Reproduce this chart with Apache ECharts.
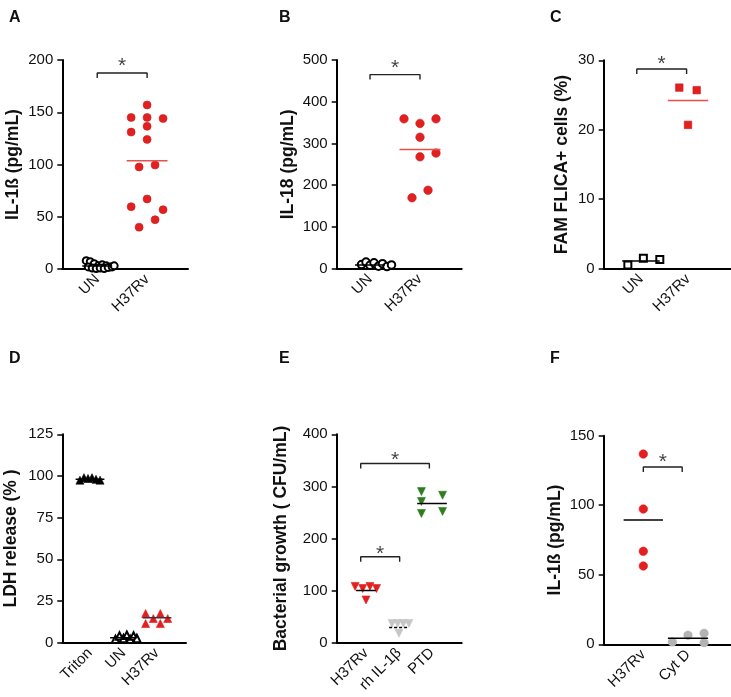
<!DOCTYPE html>
<html><head><meta charset="utf-8">
<script src="https://cdn.jsdelivr.net/npm/echarts@6/dist/echarts.min.js"></script>
<style>html,body{margin:0;padding:0;background:#fff}#c{width:731px;height:697px}</style>
</head><body><div id="c"></div>
<script>
// ---------- DATA ----------
const catsA = ['UN', 'H37Rv'];
const yTicksA = [0, 50, 100, 150, 200];
const unA = [8, 7, 5, 3, 4, 3, 2, 2, 1, 0.5, 1, 0.5, 1.5, 2, 3];
const unAx = [-0.22, -0.14, -0.06, 0.02, 0.1, 0.18, 0.26, -0.18, -0.1, -0.02, 0.06, 0.14, 0.22, 0.3, 0.34];
const h37A = [157, 145, 145, 144, 136.5, 131, 124, 97.6, 99.5, 67, 59.6, 56.8, 47.2, 40];
const h37Ax = [0, -0.32, 0, 0.32, 0, -0.32, 0, -0.16, 0.16, 0, -0.32, 0.32, 0.16, -0.16];
const meansA = [2.8, 103.7];
const bracketsA = [[1, 2, 187.6]];

const catsB = ['UN', 'H37Rv'];
const yTicksB = [0, 100, 200, 300, 400, 500];
const unB = [10, 16, 8, 14, 6, 12, 5, 9];
const unBx = [-0.17, -0.08, 0.0, 0.08, 0.17, 0.25, 0.34, 0.43];
const h37B = [359, 348, 359, 315, 268, 277, 188, 170];
const h37Bx = [-0.32, 0, 0.32, 0, 0, 0.32, 0.16, -0.16];
const meansB = [9, 285.6];
const bracketsB = [[1, 2, 465]];

const catsC = ['UN', 'H37Rv'];
const yTicksC = [0, 10, 20, 30];
const unC = [0.53, 1.49, 1.34];
const unCx = [-0.28, 0.05, 0.4];
const h37C = [26.07, 25.7, 20.7];
const h37Cx = [-0.185, 0.185, 0];
const meansC = [1.1, 24.2];
const bracketsC = [[0.91, 1.97, 28.75]];

const catsD = ['Triton', 'UN', 'H37Rv'];
const yTicksD = [0, 25, 50, 75, 100, 125];
const tritonD = [97.5, 99, 98.5, 99, 98, 97.5];
const tritonDx = [-0.3, -0.18, -0.06, 0.06, 0.18, 0.3];
const unD = [2, 4, 2.5, 4.5, 2, 4, 2.5];
const unDx = [-0.24, -0.12, 0, 0.1, 0.2, 0.3, 0.4];
const h37D = [17.5, 11.5, 14.5, 17.5, 11.5, 14.5];
const h37Dx = [-0.34, -0.34, -0.11, 0.1, 0.1, 0.32];
const meansD = [98, 3, 15];

const catsE = ['H37Rv', 'rh IL-1β', 'PTD'];
const yTicksE = [0, 100, 200, 300, 400];
const h37E = [108, 104, 108, 104, 82];
const h37Ex = [-0.33, -0.1, 0.12, 0.32, 0];
const rhE = [37, 37, 37, 37, 18];
const rhEx = [-0.21, -0.04, 0.13, 0.3, 0];
const ptdE = [290, 271, 248, 283, 252];
const ptdEx = [-0.32, -0.32, -0.32, 0.32, 0.32];
const meansE = [100, 29, 267];
const bracketsE = [[0.84, 2.02, 165], [0.84, 2.92, 344]];

const catsF = ['H37Rv', 'Cyt D'];
const yTicksF = [0, 50, 100, 150];
const h37F = [136.8, 97.3, 66.9, 56.3];
const h37Fx = [0, 0, 0, 0];
const cytF = [1.7, 6.5, 7.9, 1.2];
const cytFx = [-0.35, 0, 0.36, 0.36];
const meansF = [89.4, 4.3];
const bracketsF = [[1, 1.87, 127.5]];

// ---------- STYLE / LAYOUT ----------
const FONT = '"Liberation Sans", Arial, sans-serif';
const RED = '#e3201f', REDLINE = '#e8504c', GREEN = '#2f7d1f', GRAYE = '#c6c6c6', GRAYF = '#b3b3b3';

const grids = [], xAxes = [], yAxes = [], series = [];

function addPanel(p) {
  const gi = grids.length;
  grids.push({left: p.left, top: p.top, width: p.width, height: p.height});
  const ymax = p.ticks[p.ticks.length - 1];
  xAxes.push({
    type: 'value', gridIndex: gi, min: p.xmin, max: p.xmax,
    splitLine: {show: false}, axisTick: {show: false},
    axisLine: {show: true, onZero: false, lineStyle: {color: '#000', width: 2}},
    axisLabel: {
      customValues: p.cats.map((c, i) => i + 1), rotate: 45, margin: 8,
      formatter: v => p.cats[Math.round(v) - 1] || '',
      color: '#111', fontSize: 15, fontFamily: FONT
    }
  });
  yAxes.push({
    type: 'value', gridIndex: gi, min: p.ticks[0], max: ymax, interval: p.ticks[1] - p.ticks[0],
    name: p.name, nameLocation: 'middle', nameGap: p.nameGap, nameRotate: 90,
    nameTextStyle: {fontSize: 17.5, fontWeight: 'bold', color: '#111', fontFamily: FONT},
    splitLine: {show: false},
    axisLine: {show: true, lineStyle: {color: '#000', width: 2}},
    axisTick: {show: true, length: 5, lineStyle: {color: '#000', width: 1.5}},
    axisLabel: {color: '#111', fontSize: 15, margin: 9, fontFamily: FONT}
  });
  p.groups.forEach((g, k) => {
    const c = k + 1;
    series.push({
      type: 'scatter', xAxisIndex: gi, yAxisIndex: gi,
      symbol: g.symbol, symbolSize: g.size, symbolRotate: g.rotate || 0,
      data: g.vals.map((v, i) => [c + g.offs[i], v]),
      itemStyle: g.empty ? {color: '#000', borderColor: '#000', borderWidth: 1.1, opacity: 1}
                         : {color: g.color, borderColor: g.border || g.color, borderWidth: 0.6, opacity: 1},
      z: 3, silent: true
    });
    series.push({
      type: 'line', xAxisIndex: gi, yAxisIndex: gi, symbol: 'none', silent: true,
      data: [[c - g.hw, g.mean], [c + g.hw, g.mean]],
      lineStyle: {color: g.lineColor, width: 1.5, type: g.dashed ? [3, 2] : 'solid'}, z: 4
    });
  });
  const drop = 5 * ymax / p.height;
  (p.brackets || []).forEach(b => {
    series.push({
      type: 'line', xAxisIndex: gi, yAxisIndex: gi, symbol: 'none', silent: true,
      data: [[b[0], b[2] - drop], [b[0], b[2]], [b[1], b[2]], [b[1], b[2] - drop]],
      lineStyle: {color: '#222', width: 1.4}, z: 5
    });
    series.push({
      type: 'scatter', xAxisIndex: gi, yAxisIndex: gi, symbolSize: 1, silent: true,
      itemStyle: {color: 'rgba(0,0,0,0)'},
      data: [[(b[0] + b[1]) / 2, b[2]]],
      label: {show: true, formatter: '*', position: 'inside', offset: [0, -(p.starGap - 4)],
              fontSize: 21, color: '#111', fontFamily: FONT},
      z: 6
    });
  });
}

addPanel({left: 62.3, top: 60, width: 125.7, height: 209, xmin: 0.3, xmax: 2.82,
  cats: catsA, ticks: yTicksA, name: 'IL-1ß (pg/mL)', nameGap: 40, brackets: bracketsA, starGap: 10.5,
  groups: [
    {vals: unA, offs: unAx, symbol: 'emptyCircle', size: 7, empty: true, mean: meansA[0], hw: 0.3, lineColor: '#000'},
    {vals: h37A, offs: h37Ax, symbol: 'circle', size: 8, color: RED, border: '#c81d22', mean: meansA[1], hw: 0.41, lineColor: REDLINE}
  ]});
addPanel({left: 336.7, top: 60, width: 125, height: 208.7, xmin: 0.334, xmax: 2.834,
  cats: catsB, ticks: yTicksB, name: 'IL-18 (pg/mL)', nameGap: 40, brackets: bracketsB, starGap: 10.5,
  groups: [
    {vals: unB, offs: unBx, symbol: 'emptyCircle', size: 7.5, empty: true, mean: meansB[0], hw: 0.3, lineColor: '#000'},
    {vals: h37B, offs: h37Bx, symbol: 'circle', size: 8.5, color: RED, border: '#c81d22', mean: meansB[1], hw: 0.41, lineColor: REDLINE}
  ]});
addPanel({left: 603.7, top: 60.3, width: 127.3, height: 208.4, xmin: 0.206, xmax: 2.915,
  cats: catsC, ticks: yTicksC, name: 'FAM FLICA+ cells (%)', nameGap: 33, brackets: bracketsC, starGap: 9,
  groups: [
    {vals: unC, offs: unCx, symbol: 'emptyRect', size: 7, empty: true, mean: meansC[0], hw: 0.4, lineColor: '#000'},
    {vals: h37C, offs: h37Cx, symbol: 'rect', size: 7.5, color: RED, border: '#c81d22', mean: meansC[1], hw: 0.43, lineColor: REDLINE}
  ]});
addPanel({left: 62.3, top: 434.3, width: 123.7, height: 208.4, xmin: 0.173, xmax: 3.866,
  cats: catsD, ticks: yTicksD, name: 'LDH release (% )', nameGap: 42,
  groups: [
    {vals: tritonD, offs: tritonDx, symbol: 'triangle', size: 8, color: '#000', mean: meansD[0], hw: 0.43, lineColor: '#000'},
    {vals: unD, offs: unDx, symbol: 'emptyTriangle', size: 7.5, empty: true, mean: meansD[1], hw: 0.4, lineColor: '#000'},
    {vals: h37D, offs: h37Dx, symbol: 'triangle', size: 8, color: RED, border: RED, mean: meansD[2], hw: 0.43, lineColor: '#334'}
  ]});
addPanel({left: 336.7, top: 434.3, width: 125, height: 208.4, xmin: 0.112, xmax: 3.9,
  cats: catsE, ticks: yTicksE, name: 'Bacterial growth ( CFU/mL)', nameGap: 47, brackets: bracketsE, starGap: 7,
  groups: [
    {vals: h37E, offs: h37Ex, symbol: 'triangle', rotate: 180, size: 8, color: RED, border: RED, mean: meansE[0], hw: 0.3, lineColor: '#000'},
    {vals: rhE, offs: rhEx, symbol: 'triangle', rotate: 180, size: 8, color: GRAYE, border: GRAYE, mean: meansE[1], hw: 0.3, lineColor: '#000', dashed: true},
    {vals: ptdE, offs: ptdEx, symbol: 'triangle', rotate: 180, size: 8, color: GREEN, border: GREEN, mean: meansE[2], hw: 0.45, lineColor: '#000'}
  ]});
addPanel({left: 603.7, top: 435.7, width: 127.3, height: 208.6, xmin: 0.114, xmax: 2.962,
  cats: catsF, ticks: yTicksF, name: 'IL-1ß (pg/mL)', nameGap: 40, brackets: bracketsF, starGap: 8.7,
  groups: [
    {vals: h37F, offs: h37Fx, symbol: 'circle', size: 8.5, color: RED, border: RED, mean: meansF[0], hw: 0.44, lineColor: '#000'},
    {vals: cytF, offs: cytFx, symbol: 'circle', size: 8.5, color: GRAYF, border: GRAYF, mean: meansF[1], hw: 0.45, lineColor: '#000'}
  ]});

const letters = [['A', 9, 19], ['B', 279, 19], ['C', 550, 19], ['D', 9, 360], ['E', 279, 360], ['F', 550, 360]];

const chart = echarts.init(document.getElementById('c'), null, {renderer: 'canvas'});
chart.setOption({
  animation: false,
  backgroundColor: '#fff',
  grid: grids, xAxis: xAxes, yAxis: yAxes, series: series,
  graphic: letters.map(l => ({
    type: 'text', left: l[1], top: l[2] - 9,
    style: {text: l[0], font: 'bold 16px ' + FONT, fill: '#111'}
  }))
});
</script></body></html>
